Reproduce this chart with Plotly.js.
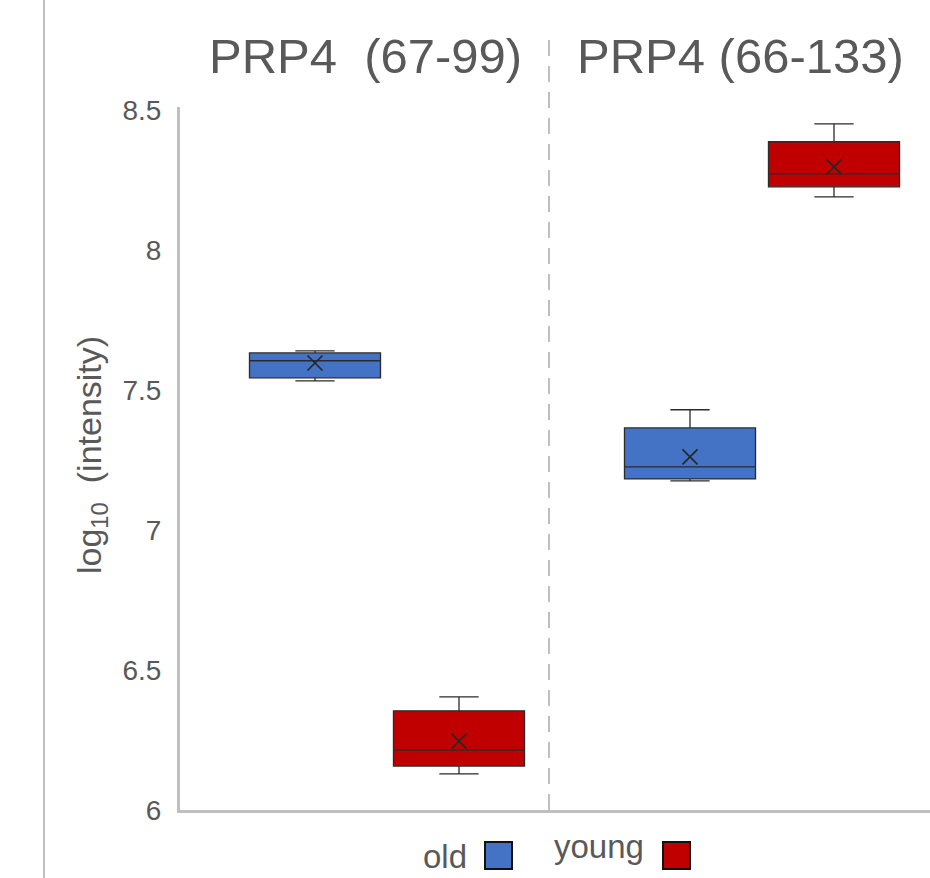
<!DOCTYPE html>
<html>
<head>
<meta charset="utf-8">
<script src="https://cdn.plot.ly/plotly-3.0.1.min.js"></script>
<style>html,body{margin:0;padding:0;background:#fff;}#chart{width:930px;height:878px;}</style>
</head>
<body>
<div id="chart"></div>
<script>
// ---- data ----
const groups = ['PRP4  (67-99)', 'PRP4 (66-133)'];
const seriesNames = ['old', 'young'];
const oldMin    = [7.532, 7.175];
const oldQ1     = [7.543, 7.182];
const oldMedian = [7.604, 7.225];
const oldQ3     = [7.632, 7.364];
const oldMax    = [7.639, 7.429];
const oldMean   = [7.596, 7.261];
const youngMin    = [6.129, 8.189];
const youngQ1     = [6.157, 8.225];
const youngMedian = [6.214, 8.271];
const youngQ3     = [6.354, 8.386];
const youngMax    = [6.404, 8.450];
const youngMean   = [6.246, 8.296];
const yTicks = [6, 6.5, 7, 7.5, 8, 8.5];
const yTickText = ['6', '6.5', '7', '7.5', '8', '8.5'];

const colors = {old: '#4472C4', young: '#C00000'};
const textColor = '#595959';
const gridGray = '#BFBFBF';
const font = 'Liberation Sans, Arial, sans-serif';

function boxTrace(name, q1, med, q3, lo, hi, color) {
  return {
    type: 'box', name: name, x: groups,
    q1: q1, median: med, q3: q3, lowerfence: lo, upperfence: hi,
    fillcolor: color, line: {color: '#2b2b2b', width: 1.3},
    whiskerwidth: 0.3, boxpoints: false, showlegend: false,
    offsetgroup: name, hoverinfo: 'y'
  };
}
function meanTrace(name, mean) {
  return {
    type: 'scatter', mode: 'markers', name: name + ' mean', x: groups, y: mean,
    marker: {symbol: 'x-thin', size: 15, line: {color: '#262626', width: 1.6}, color: '#262626'},
    showlegend: false, offsetgroup: name, hoverinfo: 'y'
  };
}

const data = [
  boxTrace('old', oldQ1, oldMedian, oldQ3, oldMin, oldMax, colors.old),
  boxTrace('young', youngQ1, youngMedian, youngQ3, youngMin, youngMax, colors.young),
  meanTrace('old', oldMean),
  meanTrace('young', youngMean)
];

function px(x) { return (x - 180) / 750; }
function py(y) { return (810 - y) / 703; }

const layout = {
  width: 930, height: 878,
  margin: {l: 180, r: 0, t: 107, b: 68},
  paper_bgcolor: '#ffffff', plot_bgcolor: '#ffffff',
  boxmode: 'group', boxgap: 0.232, boxgroupgap: 0.09,
  scattermode: 'group', scattergap: 0.232,
  showlegend: false,
  font: {family: font, color: textColor},
  xaxis: {
    type: 'category', range: [-0.552, 1.448],
    showticklabels: false, ticks: '', showgrid: false, zeroline: false,
    showline: true, linecolor: gridGray, linewidth: 3, fixedrange: true
  },
  yaxis: {
    range: [6, 8.51], tickvals: yTicks, ticktext: yTickText,
    tickfont: {size: 28, color: textColor, family: font},
    ticks: '', ticklabelstandoff: 10,
    showgrid: false, zeroline: false,
    showline: true, linecolor: gridGray, linewidth: 3, fixedrange: true
  },
  shapes: [
    {type: 'line', xref: 'paper', yref: 'paper', x0: px(44), x1: px(44), y0: -0.2, y1: 1.3,
     line: {color: gridGray, width: 2}},
    {type: 'line', xref: 'paper', yref: 'paper', x0: px(549), x1: px(549), y0: 0, y1: py(40),
     line: {color: gridGray, width: 2, dash: '16px,10px'}},
    {type: 'rect', xref: 'paper', yref: 'paper', x0: px(485), x1: px(512), y0: py(869), y1: py(842),
     fillcolor: colors.old, line: {color: '#111111', width: 2}},
    {type: 'rect', xref: 'paper', yref: 'paper', x0: px(663), x1: px(690), y0: py(869), y1: py(842),
     fillcolor: colors.young, line: {color: '#111111', width: 2}}
  ],
  annotations: [
    {text: groups[0], xref: 'paper', yref: 'paper', x: px(365), y: py(56), xanchor: 'center', yanchor: 'middle',
     showarrow: false, font: {size: 49, color: textColor, family: font}},
    {text: groups[1], xref: 'paper', yref: 'paper', x: px(740), y: py(56), xanchor: 'center', yanchor: 'middle',
     showarrow: false, font: {size: 49, color: textColor, family: font}},
    {text: 'log<sub>10</sub>  (intensity)', xref: 'paper', yref: 'paper', x: px(92), y: py(455),
     xanchor: 'center', yanchor: 'middle', textangle: -90, showarrow: false,
     font: {size: 34, color: textColor, family: font}},
    {text: seriesNames[0], xref: 'paper', yref: 'paper', x: px(469), y: py(856), xanchor: 'right', yanchor: 'middle',
     showarrow: false, font: {size: 33, color: textColor, family: font}},
    {text: seriesNames[1], xref: 'paper', yref: 'paper', x: px(552), y: py(846), xanchor: 'left', yanchor: 'middle',
     showarrow: false, font: {size: 33, color: textColor, family: font}}
  ]
};

Plotly.newPlot('chart', data, layout, {displayModeBar: false, staticPlot: true});
</script>
</body>
</html>
